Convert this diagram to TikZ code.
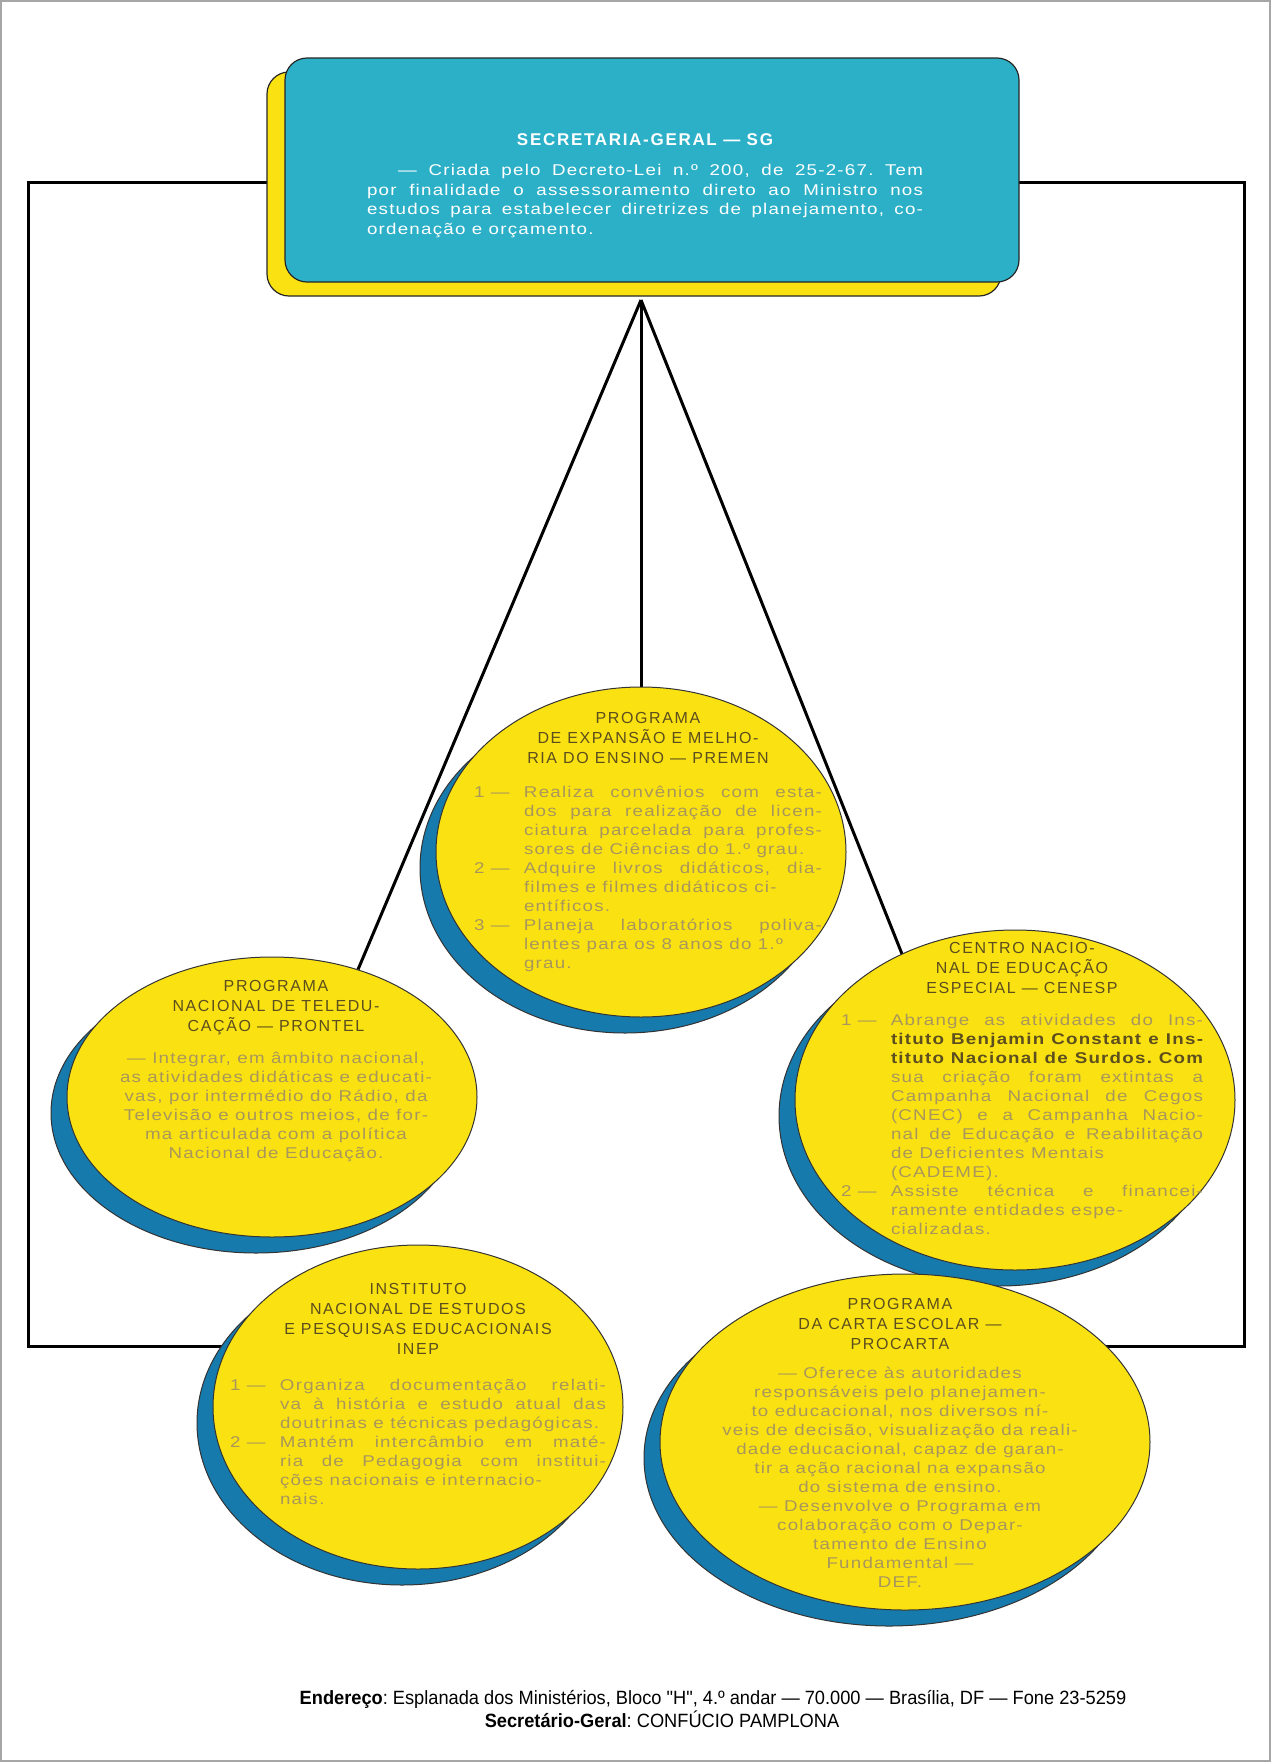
\documentclass[tikz,border=0pt]{standalone}
\usepackage{fontspec}
\setmainfont{Liberation Sans}
\newfontfamily\capsfont[LetterSpace=10]{Liberation Sans}
\newfontfamily\bodyfont[FakeStretch=1.2,LetterSpace=8]{Liberation Sans}
\newfontfamily\footfont[FakeStretch=0.95]{Liberation Sans}
\usetikzlibrary{shapes.geometric,positioning}
\definecolor{sgcyan}{RGB}{44,176,200}
\definecolor{bubyel}{RGB}{250,226,18}
\definecolor{bubblue}{RGB}{22,122,172}
\definecolor{ttlink}{RGB}{92,78,30}
\definecolor{bodyink}{RGB}{168,150,92}
\pgfdeclarelayer{bg}
\pgfsetlayers{bg,main}
\frenchspacing
\hyphenpenalty=10000
\exhyphenpenalty=10000
\newcommand{\itm}[2]{\par\noindent\hangindent=25pt\hangafter=1\makebox[25pt][l]{#1 —}#2\par}

\begin{document}
\begin{tikzpicture}[x=0.5pt,y=-0.5pt,
  link/.style={line width=1.5pt,black},
  sgbox/.style={draw=black!85,line width=0.6pt,rounded corners=11pt,minimum width=367pt,minimum height=112pt},
  bubble/.style={ellipse,draw=black!80,line width=0.5pt,fill=bubyel,inner sep=0pt},
  dropblue/.style={ellipse,draw=black!80,line width=0.5pt,fill=bubblue,inner sep=0pt},
  ttl/.style={align=center,text=ttlink,inner sep=0pt,font=\capsfont\fontsize{8}{10}\selectfont},
  txt/.style={align=justify,text=bodyink,inner sep=0pt,font=\bodyfont\fontsize{7.8}{9.5}\selectfont}]
\useasboundingbox (0,0) rectangle (1271,1762);
\draw[black!35,line width=0.8pt] (1,1) rectangle (1270,1761);

\node[sgbox,fill=bubyel] (sg-s) at (634,184) {};
\node[sgbox,fill=sgcyan] (sg) at (652,170) {};
\node[font=\capsfont\bfseries\fontsize{8.5}{10}\selectfont,text=white,inner sep=0pt,anchor=north] (sg-t) at (645,133) {SECRETARIA-GERAL — SG};
\node[txt,text=white,text width=278pt,font=\bodyfont\fontsize{7.8}{9.8}\selectfont,below=9pt of sg-t] (sg-b)
  {\hspace*{2em}— Criada pelo Decreto-Lei n.º 200, de 25-2-67. Tem\linebreak
   por finalidade o assessoramento direto ao Ministro nos\linebreak
   estudos para estabelecer diretrizes de planejamento, co-\linebreak
   ordenação e orçamento.};

\node[dropblue,minimum width=205pt,minimum height=165pt] (prem-s) at (625,868) {};
\node[bubble,minimum width=205pt,minimum height=165pt] (prem) at (641,852) {};
\node[dropblue,minimum width=205pt,minimum height=140pt] (pront-s) at (256,1113) {};
\node[bubble,minimum width=205pt,minimum height=140pt] (pront) at (272,1097) {};
\node[dropblue,minimum width=220pt,minimum height=170pt] (cenesp-s) at (999,1116) {};
\node[bubble,minimum width=220pt,minimum height=170pt] (cenesp) at (1015,1100) {};
\node[dropblue,minimum width=205pt,minimum height=162pt] (inep-s) at (402,1423) {};
\node[bubble,minimum width=205pt,minimum height=162pt] (inep) at (418,1407) {};
\node[dropblue,minimum width=245pt,minimum height=168pt] (procarta-s) at (889,1458) {};
\node[bubble,minimum width=245pt,minimum height=168pt] (procarta) at (905,1442) {};

\node[ttl,anchor=north] (prem-t) at (648,712) {PROGRAMA\\DE EXPANSÃO E MELHO-\\RIA DO ENSINO — PREMEN};
\node[txt,text width=174pt,below=7pt of prem-t] (prem-b)
  {\itm{1}{Realiza convênios com esta-\linebreak dos para realização de licen-\linebreak ciatura parcelada para profes-\linebreak sores de Ciências do 1.º grau.}
   \itm{2}{Adquire livros didáticos, dia-\linebreak filmes e filmes didáticos ci-\newline entíficos.}
   \itm{3}{Planeja laboratórios poliva-\linebreak lentes para os 8 anos do 1.º\newline grau.}};

\node[ttl,anchor=north] (pront-t) at (276,980) {PROGRAMA\\NACIONAL DE TELEDU-\\CAÇÃO — PRONTEL};
\node[txt,align=center,below=8pt of pront-t] (pront-b)
  {— Integrar, em âmbito nacional,\\as atividades didáticas e educati-\\vas, por intermédio do Rádio, da\\Televisão e outros meios, de for-\\ma articulada com a política\\Nacional de Educação.};

\node[ttl,anchor=north] (cenesp-t) at (1022,942) {CENTRO NACIO-\\NAL DE EDUCAÇÃO\\ESPECIAL — CENESP};
\node[txt,text width=181pt,below=6pt of cenesp-t] (cenesp-b)
  {\itm{1}{Abrange as atividades do Ins-\linebreak \textcolor{ttlink}{\bfseries tituto Benjamin Constant e Ins-\linebreak tituto Nacional de Surdos. Com}\linebreak sua criação foram extintas a\linebreak Campanha Nacional de Cegos\linebreak (CNEC) e a Campanha Nacio-\linebreak nal de Educação e Reabilitação\linebreak de Deficientes Mentais\newline (CADEME).}
   \itm{2}{Assiste técnica e financei-\linebreak ramente entidades espe-\newline cializadas.}};

\node[ttl,anchor=north] (inep-t) at (418,1283) {INSTITUTO\\NACIONAL DE ESTUDOS\\E PESQUISAS EDUCACIONAIS\\INEP};
\node[txt,text width=188pt,below=8pt of inep-t] (inep-b)
  {\itm{1}{Organiza documentação relati-\linebreak va à história e estudo atual das\linebreak doutrinas e técnicas pedagógicas.}
   \itm{2}{Mantém intercâmbio em maté-\linebreak ria de Pedagogia com institui-\linebreak ções nacionais e internacio-\newline nais.}};

\node[ttl,anchor=north] (procarta-t) at (900,1298) {PROGRAMA\\DA CARTA ESCOLAR —\\PROCARTA};
\node[txt,align=center,below=8pt of procarta-t] (procarta-b)
  {— Oferece às autoridades\\responsáveis pelo planejamen-\\to educacional, nos diversos ní-\\veis de decisão, visualização da reali-\\dade educacional, capaz de garan-\\tir a ação racional na expansão\\do sistema de ensino.\\— Desenvolve o Programa em\\colaboração com o Depar-\\tamento de Ensino\\Fundamental —\\DEF.};

\node[font=\footfont\fontsize{9.6}{12}\selectfont,inner sep=0pt,anchor=base] (addr) at (713,1704)
  {\textbf{Endereço}: Esplanada dos Ministérios, Bloco "H", 4.º andar — 70.000 — Brasília, DF — Fone 23-5259};
\node[font=\footfont\fontsize{9.6}{12}\selectfont,inner sep=0pt,anchor=base] (secr) at (662,1727)
  {\textbf{Secretário-Geral}: CONFÚCIO PAMPLONA};

\begin{pgfonlayer}{bg}
\coordinate (apex) at (641,300);
\coordinate (hit) at (908,969);
\coordinate (tl) at (28,182);
\coordinate (bl) at (28,1346);
\coordinate (tr) at (1244,182);
\coordinate (br) at (1244,1346);
\draw[link] (apex) -- (prem.north);
\draw[link] (apex) -- (pront.56);
\draw[link] (apex) -- (hit);
\draw[link] (sg.center |- tl) -- (tl) -- (bl) -- (bl -| inep.center);
\draw[link] (sg.center |- tr) -- (tr) -- (br) -- (br -| procarta.center);
\end{pgfonlayer}
\end{tikzpicture}
\end{document}
